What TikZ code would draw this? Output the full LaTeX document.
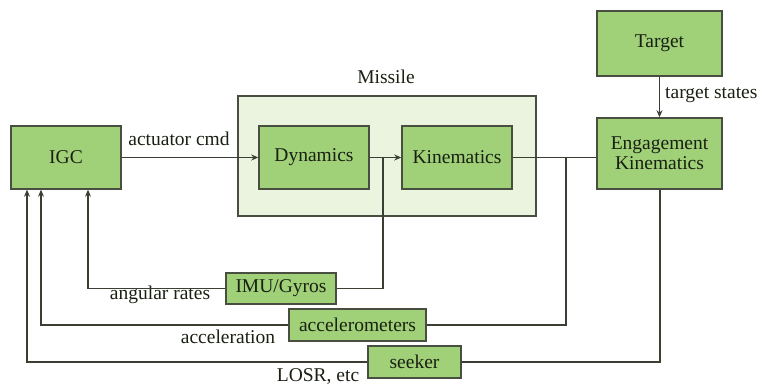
\documentclass[tikz,border=0pt]{standalone}
\usepackage{fontspec}
\setmainfont{Liberation Serif}
\usetikzlibrary{arrows.meta,calc}
\definecolor{boxgreen}{RGB}{160,208,120}
\definecolor{missilegreen}{RGB}{234,244,223}
\definecolor{edgegray}{RGB}{72,78,64}
\definecolor{txt}{RGB}{25,32,18}
\begin{document}
\begin{tikzpicture}[x=1pt,y=-1pt,
  font=\fontsize{19.5}{22}\selectfont,
  blk/.style={draw=edgegray,line width=1.5pt,fill=boxgreen,inner sep=0pt,text=txt,align=center},
  lbl/.style={inner sep=0pt,text=txt},
  wire/.style={draw=edgegray!80!black,line width=1.1pt},
  arr/.style={wire,-{Stealth[length=7pt,width=6pt]}}]
\useasboundingbox (0,0) rectangle (759,387);
\node[blk,fill=missilegreen,minimum width=298pt,minimum height=120pt] (missile) at (387,156) {};
\node[lbl] (missilelbl) at (386,77) {Missile};
\node[blk,minimum width=110pt,minimum height=63pt] (igc) at (66,157.5) {IGC};
\node[blk,minimum width=110pt,minimum height=63pt] (dyn) at (314,157.5) {Dynamics};
\node[blk,minimum width=110pt,minimum height=63pt] (kin) at (457,157.5) {Kinematics};
\node[blk,minimum width=125pt,minimum height=65pt] (target) at (659.5,43.5) {Target};
\node[blk,minimum width=125pt,minimum height=71pt,font=\fontsize{19.5}{20}\selectfont] (eng) at (659.5,153.5) {Engagement\\Kinematics};
\node[blk,minimum width=110pt,minimum height=31pt] (imu) at (281,288.5) {IMU/Gyros};
\node[blk,minimum width=137pt,minimum height=32pt] (acc) at (357.5,325) {accelerometers};
\node[blk,minimum width=93pt,minimum height=32pt] (seek) at (414.5,362) {seeker};
% labels
\node[lbl] (actl) at (179,139) {actuator cmd};
\node[lbl,anchor=west] (tsl) at (665,95) {target states};
\node[lbl] (angl) at (160,295) {angular rates};
\node[lbl] (accl) at (228,337) {acceleration};
\node[lbl] (losl) at (318,377) {LOSR, etc};
% coordinates
\coordinate (b1) at (383,157.5);
\coordinate (b2) at (566,157.5);
\coordinate (i1) at (88,288.5);
\coordinate (a1) at (41,325);
\coordinate (s1) at (27,362);
\coordinate (e1) at (660,362);
% connectors
\draw[arr] (igc.east) -- (dyn.west);
\draw[arr] (dyn.east) -- (kin.west);
\draw[wire] (kin.east) -- (kin.east -| eng.west);
\draw[arr] (target.south) -- (eng.north);
\draw[wire] (b1) -- (b1 |- imu.east) -- (imu.east);
\draw[arr] (imu.west) -- (i1) -- (i1 |- igc.south);
\draw[wire] (b2) -- (b2 |- acc.east) -- (acc.east);
\draw[arr] (acc.west) -- (a1) -- (a1 |- igc.south);
\draw[wire] (eng.south -| e1) -- (e1) -- (seek.east);
\draw[arr] (seek.west) -- (s1) -- (s1 |- igc.south);
\end{tikzpicture}
\end{document}
